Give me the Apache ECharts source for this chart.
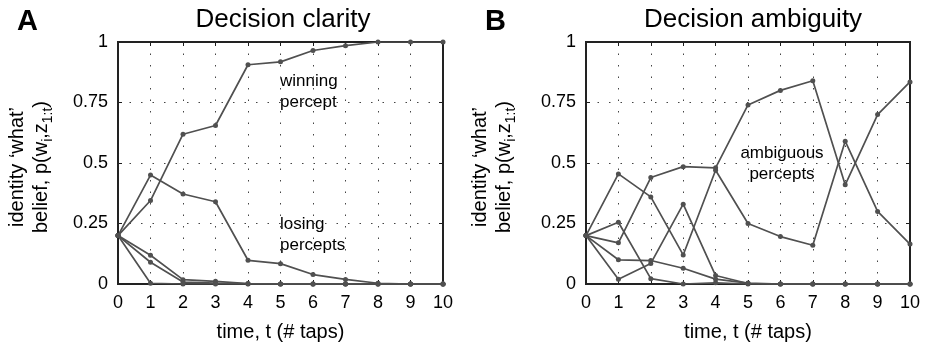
<!DOCTYPE html>
<html>
<head>
<meta charset="utf-8">
<script src="https://cdn.jsdelivr.net/npm/echarts@6/dist/echarts.min.js"></script>
<style>
  html, body { margin: 0; padding: 0; background: #fff; }
  #chart { width: 926px; height: 347px; }
</style>
</head>
<body>
<div id="chart"></div>
<script>
// time steps (taps)
const taps = [0, 1, 2, 3, 4, 5, 6, 7, 8, 9, 10];
const yTicks = [0, 0.25, 0.5, 0.75, 1];

// panel A: decision clarity
const clarityWin   = [0.2, 0.345, 0.619, 0.655, 0.906, 0.918, 0.965, 0.985, 1.0, 1.0, 1.0];
const clarityLose1 = [0.2, 0.450, 0.372, 0.340, 0.098, 0.084, 0.039, 0.019, 0.003, 0, 0];
const clarityLose2 = [0.2, 0.119, 0.018, 0.011, 0.002, 0, 0, 0, 0, 0, 0];
const clarityLose3 = [0.2, 0.090, 0.008, 0.004, 0.001, 0, 0, 0, 0, 0, 0];
const clarityLose4 = [0.2, 0.003, 0, 0, 0, 0, 0, 0, 0, 0, 0];

// panel B: decision ambiguity
const ambigA = [0.2, 0.170, 0.440, 0.485, 0.480, 0.740, 0.800, 0.840, 0.410, 0.700, 0.835];
const ambigB = [0.2, 0.455, 0.360, 0.120, 0.470, 0.250, 0.196, 0.160, 0.590, 0.300, 0.165];
const ambigC = [0.2, 0.255, 0.022, 0, 0.005, 0, 0, 0, 0, 0, 0];
const ambigD = [0.2, 0.020, 0.085, 0.330, 0.035, 0.002, 0, 0, 0, 0, 0];
const ambigE = [0.2, 0.100, 0.097, 0.065, 0.020, 0.004, 0, 0, 0, 0, 0];

const FONT = '"Liberation Sans", Arial, Helvetica, sans-serif';
const LINE = '#505050';
const AXIS = '#1c1c1c';

const chart = echarts.init(document.getElementById('chart'));

// v6 shrinks grids to fit labels unless told not to
const grids = [
  { left: 118, top: 42, width: 325, height: 242, outerBoundsMode: 'none', containLabel: false,
    show: true, borderColor: AXIS, borderWidth: 2, backgroundColor: 'transparent' },
  { left: 586, top: 42, width: 324, height: 242, outerBoundsMode: 'none', containLabel: false,
    show: true, borderColor: AXIS, borderWidth: 2, backgroundColor: 'transparent' }
];

function xAxes(gi) {
  return [
    {
      type: 'value', gridIndex: gi, min: 0, max: 10, interval: 1,
      axisLine: { show: true, onZero: false, lineStyle: { color: AXIS, width: 2 } },
      axisTick: { show: true, inside: true, length: 4, lineStyle: { color: AXIS, width: 1 } },
      axisLabel: { fontFamily: FONT, fontSize: 18, color: '#000', margin: 10 },
      splitLine: { show: true, lineStyle: { color: '#444', width: 1, type: [1.5, 10] } },
      name: 'time, t (# taps)', nameLocation: 'middle', nameGap: 38,
      nameTextStyle: { fontFamily: FONT, fontSize: 20, color: '#000' }
    },
    {
      type: 'value', gridIndex: gi, position: 'top', min: 0, max: 10, interval: 1,
      axisLine: { show: true, onZero: false, lineStyle: { color: AXIS, width: 2 } },
      axisTick: { show: true, inside: true, length: 4, lineStyle: { color: AXIS, width: 1 } },
      axisLabel: { show: false }, splitLine: { show: false }
    }
  ];
}

function yAxes(gi) {
  return [
    {
      type: 'value', gridIndex: gi, min: 0, max: 1, interval: 0.25,
      axisLine: { show: true, onZero: false, lineStyle: { color: AXIS, width: 2 } },
      axisTick: { show: true, inside: true, length: 4, lineStyle: { color: AXIS, width: 1 } },
      axisLabel: {
        fontFamily: FONT, fontSize: 18, color: '#000', margin: 10,
        formatter: v => yTicks.includes(v) ? String(v) : ''
      },
      splitLine: { show: true, lineStyle: { color: '#444', width: 1, type: [1.5, 10] } }
    },
    {
      type: 'value', gridIndex: gi, position: 'right', min: 0, max: 1, interval: 0.25,
      axisLine: { show: true, onZero: false, lineStyle: { color: AXIS, width: 2 } },
      axisTick: { show: true, inside: true, length: 4, lineStyle: { color: AXIS, width: 1 } },
      axisLabel: { show: false }, splitLine: { show: false }
    }
  ];
}

function lineSeries(values, axisIdx, withFrame) {
  const s = {
    type: 'line',
    xAxisIndex: axisIdx, yAxisIndex: axisIdx,
    data: taps.map((t, i) => [t, values[i]]),
    symbol: 'circle', symbolSize: 5,
    itemStyle: { color: LINE },
    lineStyle: { color: LINE, width: 1.7 },
    silent: true, animation: false
  };
  if (withFrame) {
    // box round the whole panel
    s.markArea = {
      silent: true,
      itemStyle: { color: 'rgba(0,0,0,0)', borderColor: '#222', borderWidth: 2 },
      data: [[{ coord: [0, 0] }, { coord: [10, 1] }]]
    };
  }
  return s;
}

function yLabel(cx) {
  return [
    {
      type: 'text', x: cx, y: 167, rotation: Math.PI / 2,
      style: {
        text: 'identity \u2018what\u2019', font: '20px ' + FONT, fill: '#000',
        align: 'center', verticalAlign: 'middle'
      }
    },
    {
      type: 'text', x: cx + 24, y: 167, rotation: Math.PI / 2,
      style: {
        text: 'belief, p(w{sub|i},z{sub|1:t})',
        font: '20px ' + FONT, fill: '#000',
        align: 'center', verticalAlign: 'middle',
        rich: {
          sub: { fontFamily: FONT, fontSize: 14, fill: '#000', verticalAlign: 'bottom', lineHeight: 28 }
        }
      }
    }
  ];
}

function note(x, y, text, align) {
  return {
    type: 'text', x: x, y: y,
    style: { text: text, font: '17px ' + FONT, fill: '#000', align: align, verticalAlign: 'middle' }
  };
}

const option = {
  backgroundColor: '#fff',
  animation: false,
  title: [
    { text: 'A', left: 12, top: 2, textStyle: { fontFamily: FONT, fontSize: 29, fontWeight: 'bold', color: '#000' } },
    { text: 'B', left: 480, top: 2, textStyle: { fontFamily: FONT, fontSize: 29, fontWeight: 'bold', color: '#000' } },
    { text: 'Decision clarity', left: 278, top: 2, textAlign: 'center',
      textStyle: { fontFamily: FONT, fontSize: 26, fontWeight: 'normal', color: '#000' } },
    { text: 'Decision ambiguity', left: 748, top: 2, textAlign: 'center',
      textStyle: { fontFamily: FONT, fontSize: 26, fontWeight: 'normal', color: '#000' } }
  ],
  grid: grids,
  xAxis: [...xAxes(0), ...xAxes(1)],
  yAxis: [...yAxes(0), ...yAxes(1)],
  series: [
    lineSeries(clarityWin, 0, true),
    lineSeries(clarityLose1, 0),
    lineSeries(clarityLose2, 0),
    lineSeries(clarityLose3, 0),
    lineSeries(clarityLose4, 0),
    lineSeries(ambigA, 2, true),
    lineSeries(ambigB, 2),
    lineSeries(ambigC, 2),
    lineSeries(ambigD, 2),
    lineSeries(ambigE, 2)
  ],
  graphic: [
    ...yLabel(17),
    ...yLabel(480),
    note(280, 81, 'winning', 'left'),
    note(280, 102, 'percept', 'left'),
    note(280, 224, 'losing', 'left'),
    note(280, 245, 'percepts', 'left'),
    note(782, 153, 'ambiguous', 'center'),
    note(782, 174, 'percepts', 'center')
  ]
};

chart.setOption(option);
</script>
</body>
</html>
